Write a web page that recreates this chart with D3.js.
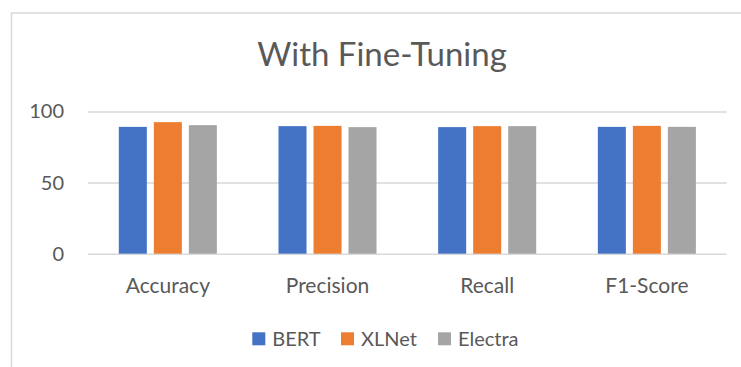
<!DOCTYPE html>
<html>
<head>
<meta charset="utf-8">
<script src="https://cdn.jsdelivr.net/npm/d3@7"></script>
<style>
  html, body { margin: 0; padding: 0; background: #fff; }
  svg { display: block; font-family: Lato, "Open Sans", sans-serif; }
</style>
</head>
<body>
<svg id="chart" width="741" height="367"></svg>
<script>
// Metric categories on the x axis
const categories = ["Accuracy", "Precision", "Recall", "F1-Score"];
// Model series and their scores (%) per metric
const seriesNames = ["BERT", "XLNet", "Electra"];
const bertValues = [89.2, 89.7, 89.0, 89.2];
const xlnetValues = [92.5, 89.9, 89.7, 89.9];
const electraValues = [90.4, 89.0, 89.7, 89.2];
const seriesColors = ["#4472C4", "#ED7D31", "#A5A5A5"];
const yTicks = [0, 50, 100];
const chartTitle = "With Fine-Tuning";

const series = [bertValues, xlnetValues, electraValues];
const svg = d3.select("#chart");
const textColor = "#595959";
const gridColor = "#d9d9d9";

// Chart frame (runs past the right and bottom edges)
svg.append("rect")
  .attr("x", 11.5).attr("y", 13)
  .attr("width", 760).attr("height", 380)
  .attr("fill", "#fff")
  .attr("stroke", gridColor).attr("stroke-width", 1.5);

const plot = { left: 88, right: 726.7, top: 111.5, bottom: 253.7 };

const x0 = d3.scaleBand()
  .domain(categories)
  .range([plot.left, plot.right])
  .paddingInner(0.386)
  .paddingOuter(0.193);

const x1 = d3.scaleBand()
  .domain(seriesNames)
  .range([0, x0.bandwidth()])
  .paddingInner(0.2);

const y = d3.scaleLinear().domain([0, 100]).range([plot.bottom, plot.top]);

// Title
svg.append("text")
  .attr("x", 382).attr("y", 66)
  .attr("text-anchor", "middle")
  .attr("fill", textColor)
  .attr("font-size", 33)
  .text(chartTitle);

// Horizontal gridlines + y labels via axis
const yAxis = d3.axisLeft(y)
  .tickValues(yTicks)
  .tickSize(-(plot.right - plot.left))
  .tickPadding(24);

const gy = svg.append("g")
  .attr("transform", `translate(${plot.left},0)`)
  .call(yAxis);
gy.select(".domain").remove();
gy.selectAll(".tick line").attr("stroke", gridColor).attr("stroke-width", 1.5);
gy.selectAll(".tick text")
  .attr("fill", textColor)
  .attr("font-size", 20)
  .attr("font-family", "Lato, sans-serif");

// Bars
const groups = svg.append("g").selectAll("g")
  .data(categories)
  .join("g")
  .attr("transform", d => `translate(${x0(d)},0)`);

groups.selectAll("rect")
  .data((d, i) => seriesNames.map((s, j) => ({ s, j, v: series[j][i] })))
  .join("rect")
  .attr("x", d => x1(d.s))
  .attr("width", x1.bandwidth())
  .attr("y", d => y(d.v))
  .attr("height", d => y(0) - y(d.v))
  .attr("fill", d => seriesColors[d.j]);

// Category labels via axis
const xAxis = d3.axisBottom(x0).tickSize(0).tickPadding(24.7);
const gx = svg.append("g")
  .attr("transform", `translate(0,${plot.bottom})`)
  .call(xAxis);
gx.select(".domain").remove();
gx.selectAll(".tick text")
  .attr("fill", textColor)
  .attr("font-size", 21)
  .attr("font-family", "Lato, sans-serif");

// Legend
const legendItems = [
  { name: seriesNames[0], color: seriesColors[0], x: 252.3 },
  { name: seriesNames[1], color: seriesColors[1], x: 341 },
  { name: seriesNames[2], color: seriesColors[2], x: 438 }
];
const legend = svg.append("g");
const li = legend.selectAll("g").data(legendItems).join("g")
  .attr("transform", d => `translate(${d.x},332.3)`);
li.append("rect").attr("width", 13).attr("height", 13).attr("fill", d => d.color);
li.append("text")
  .attr("x", 20).attr("y", 13.4)
  .attr("fill", textColor)
  .attr("font-size", 20)
  .text(d => d.name);
</script>
</body>
</html>
